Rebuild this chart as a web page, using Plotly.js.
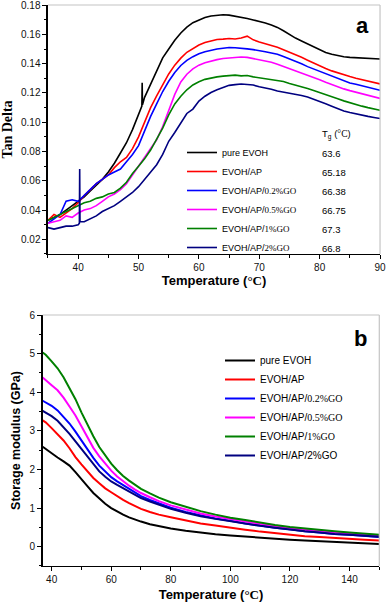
<!DOCTYPE html>
<html><head><meta charset="utf-8">
<script src="https://cdn.plot.ly/plotly-3.0.1.min.js"></script>
<style>html,body{margin:0;padding:0;background:#fff}#chart{width:387px;height:603px}</style>
</head><body><div id="chart"></div>
<script>
// ---------- Panel (a): Tan Delta vs Temperature ----------
const tempsA = [35,36,37,38,39,40,41,42,43,44,45,46,47,48,49,50,51,52,53,54,55,56,57,58,59,60,61,62,63,64,65,66,67,68,69,70,71,72,73,74,75,76,77,78,79,80,81,82,83,84,85,86,87,88,89,90];
const tanPure  = [0.033,0.035,0.037,0.040,0.043,0.046,0.049,0.053,0.057,0.061,0.066,0.072,0.079,0.086,0.095,0.106,0.117,0.126,0.135,0.144,0.150,0.156,0.161,0.165,0.168,0.170,0.1716,0.1726,0.1731,0.1734,0.1732,0.1726,0.1718,0.1709,0.1699,0.169,0.1678,0.1664,0.1648,0.1625,0.1598,0.1575,0.1555,0.1535,0.1512,0.1492,0.1477,0.1464,0.1454,0.1447,0.1443,0.144,0.1438,0.1437,0.1434,0.1432];
const tanAP    = [0.033,0.037,0.035,0.038,0.041,0.045,0.050,0.054,0.058,0.061,0.064,0.069,0.073,0.076,0.082,0.090,0.100,0.110,0.118,0.126,0.133,0.139,0.1438,0.1478,0.1505,0.1528,0.1545,0.1556,0.1565,0.1568,0.1572,0.1569,0.1575,0.1588,0.1563,0.1549,0.1538,0.1527,0.1512,0.1496,0.148,0.1463,0.1444,0.1424,0.1404,0.1384,0.1367,0.1351,0.1337,0.1324,0.1312,0.1301,0.129,0.128,0.127,0.1262];
const tanGO02  = [0.031,0.034,0.037,0.046,0.047,0.046,0.050,0.054,0.058,0.061,0.064,0.066,0.068,0.073,0.078,0.084,0.094,0.104,0.1125,0.121,0.128,0.134,0.1388,0.1423,0.1448,0.1468,0.1482,0.1492,0.1500,0.1506,0.1511,0.1509,0.1507,0.1501,0.1496,0.1491,0.1482,0.1473,0.1464,0.1449,0.1434,0.1418,0.1399,0.138,0.1364,0.1347,0.1329,0.1311,0.1296,0.128,0.1268,0.1259,0.1249,0.1238,0.1228,0.1218];
const tanGO05  = [0.031,0.032,0.033,0.036,0.035,0.038,0.040,0.041,0.043,0.046,0.049,0.051,0.054,0.058,0.064,0.070,0.076,0.082,0.088,0.097,0.108,0.119,0.1275,0.1328,0.1365,0.1390,0.1407,0.1419,0.1428,0.1435,0.1440,0.1443,0.1446,0.1443,0.1436,0.1428,0.1420,0.1410,0.1397,0.1382,0.1369,0.1356,0.1340,0.1324,0.1307,0.1291,0.1274,0.1257,0.1240,0.1228,0.1216,0.1205,0.1194,0.1183,0.1172,0.1163];
const tanGO1   = [0.033,0.035,0.037,0.039,0.041,0.043,0.045,0.046,0.048,0.049,0.051,0.052,0.055,0.059,0.065,0.070,0.075,0.081,0.088,0.096,0.105,0.1125,0.1178,0.1222,0.1255,0.1277,0.1293,0.1303,0.1310,0.1315,0.1318,0.1322,0.1317,0.1319,0.1310,0.1303,0.1298,0.1290,0.1281,0.1278,0.1265,0.1255,0.1243,0.1230,0.1217,0.1204,0.1190,0.1174,0.1160,0.1146,0.1133,0.1121,0.1110,0.1100,0.1091,0.1082];
const tanGO2   = [0.028,0.027,0.028,0.029,0.029,0.030,0.032,0.034,0.036,0.039,0.041,0.043,0.046,0.049,0.052,0.056,0.061,0.066,0.071,0.078,0.087,0.093,0.100,0.106,0.109,0.1145,0.1178,0.1203,0.1222,0.1238,0.1252,0.1257,0.1261,0.1258,0.1254,0.1242,0.1236,0.1226,0.1213,0.1206,0.1198,0.1191,0.1183,0.1172,0.1158,0.1142,0.1126,0.1110,0.1093,0.1077,0.1066,0.1056,0.1048,0.1040,0.1033,0.1025];
// short spikes visible in the measured curves
const spikePureT = [50.55,50.6,50.65];
const spikePureV = [0.111,0.127,0.112];
const spikeGO2T  = [40.2,40.25,40.3];
const spikeGO2V  = [0.031,0.068,0.032];
const tgValues = ['63.6','65.18','66.38','66.75','67.3','66.8'];

// ---------- Panel (b): Storage modulus vs Temperature ----------
const tempsB = [37,38,40,42,44,46,48,50,52,54,56,58,60,62,64,66,68,70,73,76,80,85,90,95,100,105,110,115,120,125,130,135,140,145,150];
const modPure = [2.59,2.53,2.42,2.31,2.21,2.10,1.93,1.76,1.57,1.39,1.24,1.11,1.00,0.91,0.83,0.76,0.70,0.65,0.58,0.53,0.47,0.41,0.36,0.32,0.29,0.26,0.23,0.21,0.18,0.16,0.14,0.12,0.10,0.09,0.07];
const modAP   = [3.27,3.22,3.07,2.90,2.75,2.55,2.32,2.13,1.95,1.78,1.64,1.51,1.41,1.30,1.21,1.13,1.05,0.98,0.90,0.83,0.76,0.67,0.60,0.55,0.49,0.44,0.39,0.35,0.31,0.27,0.25,0.22,0.20,0.18,0.16];
const modGO02 = [3.78,3.74,3.65,3.53,3.37,3.19,2.98,2.75,2.52,2.30,2.10,1.94,1.80,1.69,1.59,1.49,1.40,1.31,1.21,1.12,1.01,0.90,0.81,0.73,0.67,0.60,0.55,0.49,0.45,0.40,0.37,0.33,0.31,0.28,0.25];
const modGO05 = [4.38,4.32,4.18,4.05,3.86,3.63,3.40,3.12,2.84,2.56,2.34,2.14,1.97,1.82,1.69,1.58,1.48,1.39,1.28,1.18,1.07,0.96,0.86,0.78,0.71,0.65,0.59,0.53,0.48,0.44,0.40,0.37,0.34,0.31,0.28];
const modGO1  = [5.03,4.97,4.80,4.62,4.39,4.12,3.82,3.48,3.16,2.86,2.58,2.35,2.15,1.98,1.83,1.71,1.60,1.50,1.38,1.27,1.15,1.03,0.92,0.83,0.75,0.69,0.62,0.56,0.51,0.47,0.43,0.40,0.37,0.34,0.31];
const modGO2  = [3.52,3.48,3.38,3.26,3.10,2.92,2.73,2.53,2.32,2.12,1.95,1.81,1.69,1.60,1.51,1.42,1.34,1.26,1.17,1.08,0.98,0.88,0.79,0.72,0.66,0.59,0.54,0.49,0.44,0.40,0.37,0.33,0.31,0.28,0.26];

const SANS = 'Liberation Sans, Arial, sans-serif';
const SERIF = 'Liberation Serif, Times New Roman, serif';
const sv = t => '<span style="font-family:Liberation Serif">' + t + '</span>';

const namesA = ['pure EVOH','EVOH/AP','EVOH/AP/'+sv('0.2%GO'),'EVOH/AP/'+sv('0.5%GO'),'EVOH/AP/'+sv('1%GO'),'EVOH/AP/'+sv('2%GO')];
const namesB = ['pure EVOH','EVOH/AP','EVOH/AP/'+sv('0.2%GO'),'EVOH/AP/'+sv('0.5%GO'),'EVOH/AP/'+sv('1%GO'),'EVOH/AP/2%GO'];
const colors = ['#000000','#ff0000','#0000ff','#ff00ff','#008000','#000080'];

function merge(xs, ys, sx, sy){
  const pts = xs.map((x,i)=>[x,ys[i]]).concat(sx.map((x,i)=>[x,sy[i]]));
  pts.sort((a,b)=>a[0]-b[0]);
  return [pts.map(p=>p[0]), pts.map(p=>p[1])];
}

const seriesA = [
  merge(tempsA, tanPure, spikePureT, spikePureV),
  [tempsA, tanAP],
  [tempsA, tanGO02],
  [tempsA, tanGO05],
  [tempsA, tanGO1],
  merge(tempsA, tanGO2, spikeGO2T, spikeGO2V)
];
const seriesB = [modPure, modAP, modGO02, modGO05, modGO1, modGO2];

const traces = [];
seriesA.forEach((s,i)=>traces.push({
  type:'scatter', mode:'lines', x:s[0], y:s[1], name:namesA[i],
  line:{color:colors[i], width:1.6}, xaxis:'x', yaxis:'y', legend:'legend'
}));
seriesB.forEach((s,i)=>traces.push({
  type:'scatter', mode:'lines', x:tempsB, y:s, name:namesB[i],
  line:{color:colors[i], width:2}, xaxis:'x2', yaxis:'y2', legend:'legend2'
}));

const ax = {
  showline:true, linecolor:'#000', linewidth:1.5, ticks:'outside', ticklen:4, tickwidth:1,
  tickcolor:'#000', showgrid:false, zeroline:false, mirror:false, ticklabeloverflow:'allow',
  tickfont:{family:SANS, size:10, color:'#111'}
};
const minor = d => ({dtick:d, ticks:'outside', ticklen:2.5, tickcolor:'#000', tickwidth:1, showgrid:false});
const tempTitle = 'Temperature ('+sv('°C')+')';

// Tg column positions (paper coords)
const tgY0 = 1-153/603, tgStep = 19/603;
const annotations = [
  {text:'<b>a</b>', xref:'paper', yref:'paper', x:362/387, y:1-25/603, xanchor:'center', yanchor:'middle', showarrow:false, font:{family:SANS,size:22,color:'#000'}},
  {text:'<b>b</b>', xref:'paper', yref:'paper', x:360/387, y:1-338/603, xanchor:'center', yanchor:'middle', showarrow:false, font:{family:SANS,size:22,color:'#000'}},
  {text:'T<sub>g</sub> ('+sv('°C')+')', xref:'paper', yref:'paper', x:0.826, y:1-134/603, xanchor:'left', yanchor:'middle', showarrow:false, font:{family:SANS,size:9.5,color:'#000'}}
];
tgValues.forEach((v,i)=>annotations.push({
  text:v, xref:'paper', yref:'paper', x:0.826, y:tgY0 - i*tgStep, xanchor:'left', yanchor:'middle',
  showarrow:false, font:{family:SANS,size:9.5,color:'#000'}
}));

const border = (xr,yr) => [
  {type:'line', xref:xr+' domain', yref:yr+' domain', x0:0, x1:1, y0:1, y1:1, line:{color:'#c4c4c4', width:1.2}},
  {type:'line', xref:xr+' domain', yref:yr+' domain', x0:1, x1:1, y0:0, y1:1, line:{color:'#c4c4c4', width:1.2}}
];

const layout = {
  width:387, height:603, margin:{l:0,r:0,t:0,b:0},
  paper_bgcolor:'#fff', plot_bgcolor:'#fff', showlegend:true,
  xaxis:Object.assign({}, ax, {
    domain:[0.124,0.982], range:[35,90], dtick:10, tick0:0, minor:minor(5), anchor:'y',
    title:{text:tempTitle, font:{family:SANS,size:13,color:'#000',weight:'bold'}, standoff:1}
  }),
  yaxis:Object.assign({}, ax, {
    domain:[0.5788,0.9917], range:[0.01,0.1801], dtick:0.02, tick0:0, tickformat:'.2f', minor:minor(0.01), anchor:'x',
    title:{text:'Tan Delta', font:{family:SERIF,size:14,color:'#000',weight:'bold'}, standoff:6}
  }),
  xaxis2:Object.assign({}, ax, {
    domain:[0.1103,0.9801], range:[37,150], dtick:20, tick0:0, minor:minor(10), anchor:'y2',
    title:{text:tempTitle, font:{family:SANS,size:13,color:'#000',weight:'bold'}, standoff:5}
  }),
  yaxis2:Object.assign({}, ax, {
    domain:[0.0614,0.4776], range:[-0.5,6.001], dtick:1, tick0:0, minor:minor(0.5), anchor:'x2',
    title:{text:'Storage modulus (GPa)', font:{family:SANS,size:12.5,color:'#000',weight:'bold'}, standoff:6}
  }),
  legend:{x:182/387, y:1-138/603, xanchor:'left', yanchor:'top', bgcolor:'rgba(0,0,0,0)', borderwidth:0,
    font:{family:SANS,size:9,color:'#000'}},
  legend2:{x:220/387, y:1-346/603, xanchor:'left', yanchor:'top', bgcolor:'rgba(0,0,0,0)', borderwidth:0,
    font:{family:SANS,size:10,color:'#000'}},
  annotations:annotations,
  shapes:border('x','y').concat(border('x2','y2'))
};

Plotly.newPlot('chart', traces, layout, {staticPlot:true, displayModeBar:false});
</script></body></html>
